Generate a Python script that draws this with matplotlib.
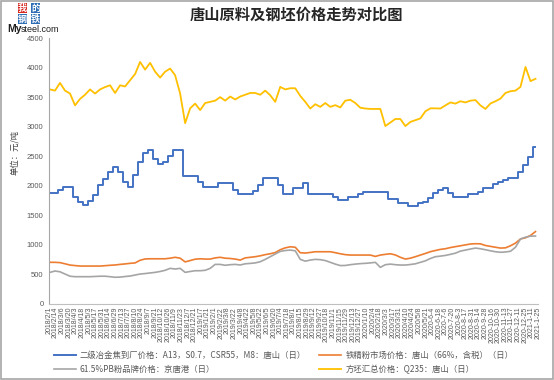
import numpy as np
import matplotlib
matplotlib.use('Agg')
import matplotlib.pyplot as plt
from matplotlib.lines import Line2D
from matplotlib.patches import Rectangle

plt.rcParams['font.family'] = ['Noto Sans CJK SC', 'DejaVu Sans']

title = '唐山原料及钢坯价格走势对比图'
y_label = '单位：元/吨'
series_names = [
    '二级冶金焦到厂价格：A13，S0.7，CSR55，M8：唐山（日）',
    '铁精粉市场价格：唐山（66%，含税）（日）',
    '61.5%PB粉品牌价格：京唐港（日）',
    '方坯汇总价格：Q235：唐山（日）',
]
series_colors = ['#4472C4', '#ED7D31', '#A5A5A5', '#FFC000']

date_labels = [
    '2018/2/1', '2018/2/14', '2018/3/6', '2018/3/20', '2018/4/3', '2018/4/18', '2018/5/3',
    '2018/5/17', '2018/5/31', '2018/6/14', '2018/6/29', '2018/7/13', '2018/7/27', '2018/8/10',
    '2018/8/24', '2018/9/7', '2018/9/21', '2018/10/12', '2018/10/26', '2018/11/9', '2018/11/23',
    '2018/12/7', '2018/12/21', '2019/1/7', '2019/1/21', '2019/2/1', '2019/2/22', '2019/3/8',
    '2019/3/22', '2019/4/8', '2019/4/22', '2019/5/8', '2019/5/22', '2019/6/5', '2019/6/20',
    '2019/7/4', '2019/7/18', '2019/8/1', '2019/8/15', '2019/8/29', '2019/9/12', '2019/9/27',
    '2019/10/18', '2019/11/1', '2019/11/15', '2019/11/29', '2019/12/13', '2019/12/27',
    '2020/1/10', '2020/2/4', '2020/2/18', '2020/3/3', '2020/3/17', '2020/3/31', '2020/4/10',
    '2020/4/24', '2020/5/8', '2020/5/21', '2020-6-4', '2020-6-18', '2020-7-6', '2020-7-20',
    '2020-8-3', '2020-8-17', '2020-8-31', '2020-9-14', '2020-9-28', '2020-10-16', '2020-10-30',
    '2020-11-13', '2020-11-27', '2020-12-11', '2020-12-25', '2021-1-11', '2021-1-25',
]

coke = [
    1880, 1880, 1935, 1982, 1982, 1813, 1720, 1673, 1750, 1850,
    2011, 2120, 2236, 2320, 2236, 2067, 1982, 2180, 2405, 2550,
    2603, 2450, 2360, 2405, 2500, 2603, 2603, 2160, 2160, 2160,
    2067, 1982, 1982, 1982, 2040, 2040, 2040, 1935, 1860, 1860,
    1860, 1920, 2020, 2140, 2140, 2140, 2020, 1860, 1860, 1955,
    1955, 2050, 1860, 1860, 1860, 1860, 1860, 1815, 1758, 1758,
    1815, 1815, 1860, 1898, 1898, 1898, 1898, 1898, 1780, 1780,
    1702, 1702, 1656, 1656, 1702, 1730, 1800, 1870, 1930, 1955,
    1870, 1815, 1815, 1815, 1860, 1860, 1898, 1955, 1955, 2030,
    2060, 2097, 2140, 2140, 2236, 2350, 2490, 2650,
]

ore_conc = [
    705, 705, 700, 680, 659, 650, 642, 642, 642, 642,
    642, 648, 655, 660, 670, 678, 688, 695, 740, 762,
    765, 765, 765, 765, 775, 790, 775, 712, 735, 758,
    765, 760, 760, 780, 790, 775, 770, 760, 743, 780,
    790, 800, 815, 835, 850, 870, 918, 950, 968, 960,
    867, 862, 872, 884, 884, 884, 884, 868, 850, 835,
    828, 828, 828, 828, 828, 805, 828, 840, 850, 830,
    790, 760, 775, 800, 828, 855, 885, 905, 924, 935,
    955, 970, 985, 1000, 1015, 1020, 1018, 990, 975, 960,
    946, 950, 985, 1030, 1100, 1120, 1160, 1225,
]

pb_fines = [
    535, 558, 545, 507, 470, 462, 462, 462, 462, 466,
    470, 470, 462, 452, 455, 465, 473, 490, 507, 515,
    525, 535, 550, 570, 603, 592, 603, 535, 550, 563,
    563, 570, 603, 670, 670, 655, 665, 670, 660, 680,
    687, 695, 715, 755, 800, 845, 890, 905, 912, 900,
    755, 725, 743, 755, 750, 735, 705, 675, 650, 652,
    665, 675, 683, 688, 695, 705, 620, 665, 675, 665,
    659, 659, 668, 680, 705, 730, 770, 800, 810, 822,
    840, 860, 895, 912, 930, 946, 935, 918, 900, 884,
    875, 880, 892, 960, 1100, 1130, 1148, 1150,
]

billet = [
    3630, 3610, 3740, 3610, 3560, 3360, 3470, 3540, 3630, 3560,
    3630, 3670, 3700, 3570, 3700, 3680, 3785, 3890, 4095, 3965,
    4080, 3930, 3830, 3930, 3983, 3870, 3560, 3060, 3310, 3390,
    3280, 3400, 3420, 3440, 3500, 3440, 3510, 3460, 3510, 3540,
    3570, 3570, 3540, 3610, 3532, 3420, 3673, 3630, 3650, 3650,
    3520, 3420, 3307, 3380, 3335, 3400, 3335, 3364, 3325, 3440,
    3455, 3400, 3320, 3307, 3300, 3300, 3300, 3010, 3070, 3130,
    3130, 3010, 3080, 3110, 3140, 3260, 3310, 3310, 3307, 3360,
    3410, 3390, 3430, 3410, 3440, 3450, 3360, 3300, 3392, 3430,
    3475, 3570, 3600, 3610, 3673, 4010, 3770, 3810,
]

W, H = 554, 380
fig = plt.figure(figsize=(W / 100, H / 100), dpi=100)
ax = fig.add_axes([49 / W, 1 - 304 / H, (538 - 49) / W, (304 - 38) / H])

x = np.arange(len(coke))
h1, = ax.plot(x, coke, color=series_colors[0], lw=1.4, drawstyle='steps-mid')
h2, = ax.plot(x, ore_conc, color=series_colors[1], lw=1.2)
h3, = ax.plot(x, pb_fines, color=series_colors[2], lw=1.2)
h4, = ax.plot(x, billet, color=series_colors[3], lw=1.3)

ax.set_ylim(0, 4500)
ax.set_yticks(np.arange(0, 4501, 500))
ax.tick_params(axis='y', length=0, labelsize=5.5, labelcolor='#595959', pad=4)
for lab in ax.get_yticklabels():
    lab.set_family('Liberation Sans')

xmin, xmax = -0.2, len(coke) - 1 + 0.5
ax.set_xlim(xmin, xmax)
ax.set_xticks(np.linspace(xmin, xmax, len(date_labels)))
ax.set_xticklabels(date_labels, rotation=90, fontsize=5, color='#595959',
                   family='Liberation Sans')
ax.tick_params(axis='x', length=0, pad=2)

for s in ['top', 'right']:
    ax.spines[s].set_visible(False)
ax.spines['left'].set_color('#A6A6A6')
ax.spines['bottom'].set_color('#BFBFBF')
ax.spines['left'].set_linewidth(0.8)
ax.spines['bottom'].set_linewidth(0.8)

fig.text(296 / W, 1 - 15 / H, title, ha='center', va='center', fontsize=11,
         fontweight='bold', color='#262626')
fig.text(15 / W, 1 - 152 / H, y_label, rotation=90, ha='center', va='center',
         fontsize=6, color='#404040')

# logo
logo_chars = [('我', 18, 8, '#D7261E'), ('的', 31, 8, '#2E6DB4'),
              ('钢', 18, 19, '#2E6DB4'), ('铁', 31, 19, '#2E6DB4')]
for ch, lx, ly, c in logo_chars:
    fig.text(lx / W, 1 - ly / H, ch, ha='left', va='center', fontsize=6.5,
             color='white', fontweight='bold',
             bbox=dict(boxstyle='square,pad=0.05', fc=c, ec='none'))
fig.text(7 / W, 1 - 29 / H, 'My', ha='left', va='center', fontsize=7.5,
         fontweight='bold', color='#1F1F1F', family='Liberation Sans')
fig.text(20.5 / W, 1 - 29.5 / H, 'steel.com', ha='left', va='center', fontsize=6.5,
         color='#1F1F1F', family='Liberation Sans')

leg = fig.legend([h1, h3, h2, h4],
                 [series_names[0], series_names[2], series_names[1], series_names[3]],
                 ncol=2, loc='upper left', bbox_to_anchor=(54 / W, 1 - 351 / H),
                 frameon=False, fontsize=6, handlelength=2.6, handletextpad=0.5,
                 columnspacing=1.6, labelspacing=0.6, borderpad=0, borderaxespad=0)
for t in leg.get_texts():
    t.set_color('#595959')

fig.patches.append(Rectangle((0.001, 0.002), 0.997, 0.996, transform=fig.transFigure,
                             fill=False, edgecolor='#A6A6A6', lw=1.2))

fig.savefig('out.png', dpi=100)
